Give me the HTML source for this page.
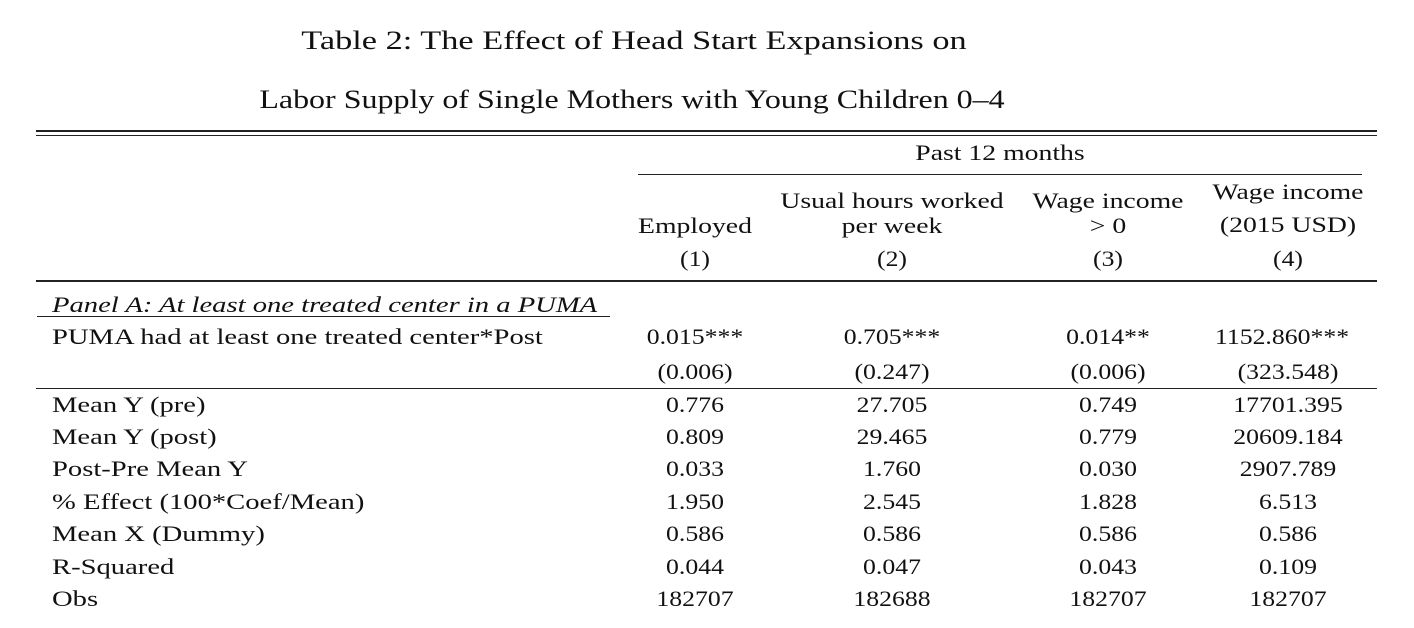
<!DOCTYPE html>
<html><head><style>
body{margin:0;width:1414px;height:628px;background:#fff;position:relative;font-family:"Liberation Serif",serif;color:#111;font-size:22px;overflow:hidden}
.t{position:absolute;white-space:nowrap;line-height:1;transform:scaleX(1.3);transform-origin:0 0}
.c{transform:translateX(-50%) scaleX(1.26);transform-origin:50% 0}
.n{transform:translateX(-50%) scaleX(1.17);transform-origin:50% 0}
.l{position:absolute;background:#222}
</style></head><body>
<div class="t c" style="left:634px;top:28px;font-size:26px;transform:translateX(-50%) scaleX(1.32)">Table 2: The Effect of Head Start Expansions on</div>
<div class="t c" style="left:632px;top:87px;font-size:26px;transform:translateX(-50%) scaleX(1.23)">Labor Supply of Single Mothers with Young Children 0–4</div>
<div class="l" style="left:36px;top:130px;width:1341px;height:1.5px"></div>
<div class="l" style="left:36px;top:134.5px;width:1341px;height:1.5px"></div>
<div class="t c" style="left:1000px;top:142px">Past 12 months</div>
<div class="l" style="left:638px;top:174px;width:724px;height:1.2px"></div>
<div class="t c" style="left:695px;top:215px">Employed</div>
<div class="t c" style="left:892px;top:190px">Usual hours worked</div>
<div class="t c" style="left:892px;top:215px">per week</div>
<div class="t c" style="left:1108px;top:190px">Wage income</div>
<div class="t c" style="left:1108px;top:215px">&gt; 0</div>
<div class="t c" style="left:1288px;top:181px">Wage income</div>
<div class="t c" style="left:1288px;top:214px">(2015 USD)</div>
<div class="t n" style="left:695px;top:248px">(1)</div>
<div class="t n" style="left:892px;top:248px">(2)</div>
<div class="t n" style="left:1108px;top:248px">(3)</div>
<div class="t n" style="left:1288px;top:248px">(4)</div>
<div class="l" style="left:36px;top:280px;width:1341px;height:1.5px"></div>
<div class="t" style="left:52px;top:294px;font-style:italic">Panel A: At least one treated center in a PUMA</div>
<div class="l" style="left:37px;top:316px;width:573px;height:1px"></div>
<div class="t" style="left:52px;top:326px">PUMA had at least one treated center*Post</div>
<div class="t n" style="left:695px;top:326px">0.015***</div>
<div class="t n" style="left:892px;top:326px">0.705***</div>
<div class="t n" style="left:1108px;top:326px">0.014**</div>
<div class="t n" style="left:1282px;top:326px">1152.860***</div>
<div class="t n" style="left:695px;top:361px">(0.006)</div>
<div class="t n" style="left:892px;top:361px">(0.247)</div>
<div class="t n" style="left:1108px;top:361px">(0.006)</div>
<div class="t n" style="left:1288px;top:361px">(323.548)</div>
<div class="l" style="left:36px;top:388px;width:1341px;height:1.2px"></div>
<div class="t" style="left:52px;top:394px">Mean Y (pre)</div><div class="t n" style="left:695px;top:394px">0.776</div><div class="t n" style="left:892px;top:394px">27.705</div><div class="t n" style="left:1108px;top:394px">0.749</div><div class="t n" style="left:1288px;top:394px">17701.395</div>
<div class="t" style="left:52px;top:426px">Mean Y (post)</div><div class="t n" style="left:695px;top:426px">0.809</div><div class="t n" style="left:892px;top:426px">29.465</div><div class="t n" style="left:1108px;top:426px">0.779</div><div class="t n" style="left:1288px;top:426px">20609.184</div>
<div class="t" style="left:52px;top:458px">Post-Pre Mean Y</div><div class="t n" style="left:695px;top:458px">0.033</div><div class="t n" style="left:892px;top:458px">1.760</div><div class="t n" style="left:1108px;top:458px">0.030</div><div class="t n" style="left:1288px;top:458px">2907.789</div>
<div class="t" style="left:52px;top:491px">% Effect (100*Coef/Mean)</div><div class="t n" style="left:695px;top:491px">1.950</div><div class="t n" style="left:892px;top:491px">2.545</div><div class="t n" style="left:1108px;top:491px">1.828</div><div class="t n" style="left:1288px;top:491px">6.513</div>
<div class="t" style="left:52px;top:523px">Mean X (Dummy)</div><div class="t n" style="left:695px;top:523px">0.586</div><div class="t n" style="left:892px;top:523px">0.586</div><div class="t n" style="left:1108px;top:523px">0.586</div><div class="t n" style="left:1288px;top:523px">0.586</div>
<div class="t" style="left:52px;top:556px">R-Squared</div><div class="t n" style="left:695px;top:556px">0.044</div><div class="t n" style="left:892px;top:556px">0.047</div><div class="t n" style="left:1108px;top:556px">0.043</div><div class="t n" style="left:1288px;top:556px">0.109</div>
<div class="t" style="left:52px;top:588px">Obs</div><div class="t n" style="left:695px;top:588px">182707</div><div class="t n" style="left:892px;top:588px">182688</div><div class="t n" style="left:1108px;top:588px">182707</div><div class="t n" style="left:1288px;top:588px">182707</div>
</body></html>
